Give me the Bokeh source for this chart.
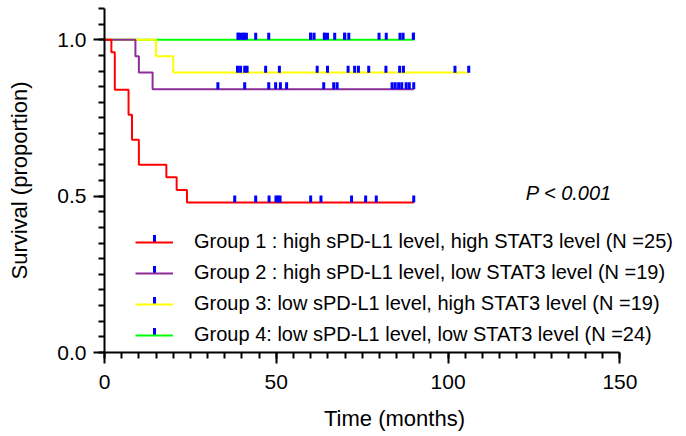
import numpy as np
from bokeh.plotting import figure
from bokeh.models import (Range1d, FixedTicker, Legend, LegendItem, Label,
                          ColumnDataSource, PrintfTickFormatter, BoxAnnotation)
from bokeh.embed import file_html
from bokeh.resources import INLINE

# ---------------- data ----------------
g1_time = [0, 2, 3, 7, 8, 10, 18, 21, 24, 90]
g1_surv = [1.0, 0.96, 0.84, 0.76, 0.68, 0.60, 0.56, 0.52, 0.48, 0.48]
g1_cens = [37.9, 44.0, 47.9, 49.9, 50.5, 51.1, 60.0, 63.0, 71.9, 76.0, 79.1, 90.0]

g2_time = [0, 9, 10, 14, 90]
g2_surv = [1.0, 0.947, 0.895, 0.842, 0.842]
g2_cens = [33.0, 40.8, 47.8, 49.8, 51.2, 53.0, 63.8, 66.7, 67.7, 83.7, 84.6,
           85.6, 86.5, 87.8, 88.7, 90.0]

g3_time = [0, 15, 20, 106]
g3_surv = [1.0, 0.947, 0.895, 0.895]
g3_cens = [38.7, 39.6, 40.8, 41.5, 46.9, 50.9, 61.9, 64.9, 70.9, 72.8, 73.9,
           76.9, 81.9, 85.9, 87.0, 102.0, 106.0]

g4_time = [0, 90]
g4_surv = [1.0, 1.0]
g4_cens = [38.9, 38.9, 39.6, 40.5, 40.5, 41.3, 44.0, 47.8, 60.0, 60.0, 61.0,
           64.0, 64.0, 64.9, 67.0, 69.9, 69.9, 71.1, 79.9, 82.0, 86.0, 86.9,
           89.9, 89.9]

group_labels = [
    "Group 1 : high sPD-L1 level, high STAT3 level (N =25)",
    "Group 2 : high sPD-L1 level, low STAT3 level (N =19)",
    "Group 3: low sPD-L1 level, high STAT3 level (N =19)",
    "Group 4: low sPD-L1 level, low STAT3 level (N =24)",
]
group_colors = ["#FF0000", "#8E2C99", "#FFFF00", "#00FF00"]
censor_color = "#0000FF"

x_ticks = [0, 50, 100, 150]
y_ticks = [0.0, 0.5, 1.0]
p_text = "P < 0.001"

FONT = "Liberation Sans"

# ---------------- figure ----------------
p = figure(width=686, height=436, output_backend="svg", toolbar_location=None,
           x_range=Range1d(0, 168.8), y_range=Range1d(0, 1.1),
           min_border_left=104, min_border_right=2, min_border_top=8,
           min_border_bottom=84)
p.outline_line_color = None
p.grid.visible = False
p.background_fill_color = "white"
p.border_fill_color = "white"

groups = [
    (g1_time, g1_surv, g1_cens),
    (g2_time, g2_surv, g2_cens),
    (g3_time, g3_surv, g3_cens),
    (g4_time, g4_surv, g4_cens),
]

line_rs = [None] * 4
# draw lines: group 4 at the bottom, group 1 on top
for i in [3, 2, 1, 0]:
    t, s, _ = groups[i]
    line_rs[i] = p.step(x=t, y=s, mode="after", line_color=group_colors[i],
                        line_width=2)

tick_lift = 0.011
for i in [3, 2, 1, 0]:
    t, s, c = groups[i]
    idx = np.searchsorted(np.array(t), np.array(c), side="right") - 1
    cy = np.array(s)[np.clip(idx, 0, len(s) - 1)] + tick_lift
    src = ColumnDataSource(dict(x=c, y=cy))
    p.scatter("x", "y", source=src, marker="dash", size=7,
              angle=np.pi / 2, line_color=censor_color,
              line_width=3, fill_color=censor_color)

# legend (lines + labels)
leg_x, leg_y, leg_spacing, leg_row = 31, 6, 8, 23
items = [LegendItem(label=group_labels[i], renderers=[line_rs[i]])
         for i in range(4)]
legend = Legend(items=items, location=(leg_x, leg_y), padding=0, margin=0,
                spacing=leg_spacing, glyph_width=38, glyph_height=22,
                label_height=22, label_standoff=21, label_text_font=FONT,
                label_text_font_size="20px", label_text_color="black",
                border_line_color=None, background_fill_alpha=0)
p.add_layout(legend, "center")

# blue censor tick drawn on each legend sample line
for k in range(4):
    row_center = leg_y + (3 - k) * (leg_row + leg_spacing) + leg_row / 2
    p.add_layout(BoxAnnotation(left=leg_x + 19 - 1.5, right=leg_x + 19 + 1.5,
                               bottom=row_center, top=row_center + 7,
                               left_units="screen", right_units="screen",
                               top_units="screen", bottom_units="screen",
                               fill_color=censor_color, fill_alpha=1,
                               line_color=None))

p.add_layout(Label(x=122.6, y=0.511, text=p_text, text_font=FONT,
                   text_font_size="20px", text_font_style="italic",
                   text_color="black", text_baseline="alphabetic"))

# ---------------- axes ----------------
for ax in (p.xaxis[0], p.yaxis[0]):
    ax.axis_line_width = 2
    ax.axis_line_color = "black"
    ax.major_tick_line_width = 2
    ax.minor_tick_line_width = 2
    ax.major_tick_line_color = "black"
    ax.minor_tick_line_color = "black"
    ax.major_tick_in = 0
    ax.major_tick_out = 11
    ax.minor_tick_in = 0
    ax.minor_tick_out = 6
    ax.major_label_text_font = FONT
    ax.major_label_text_font_size = "21px"
    ax.major_label_text_color = "black"
    ax.axis_label_text_font = FONT
    ax.axis_label_text_font_size = "22px"
    ax.axis_label_text_font_style = "normal"
    ax.axis_label_text_color = "black"

p.xaxis.ticker = FixedTicker(ticks=x_ticks, minor_ticks=list(range(0, 151, 5)))
p.xaxis.bounds = (0, 150)
p.xaxis.axis_label = "Time (months)"
p.xaxis.major_label_standoff = 11
p.xaxis.axis_label_standoff = 14

p.yaxis.ticker = FixedTicker(ticks=y_ticks,
                             minor_ticks=[round(v, 2) for v in np.arange(0, 1.1001, 0.05)])
p.yaxis.bounds = (0, 1.1)
p.yaxis.formatter = PrintfTickFormatter(format="%.1f")
p.yaxis.axis_label = "Survival (proportion)"
p.yaxis.major_label_standoff = 7
p.yaxis.axis_label_standoff = 22

open("out.html", "w").write(file_html(p, INLINE))
